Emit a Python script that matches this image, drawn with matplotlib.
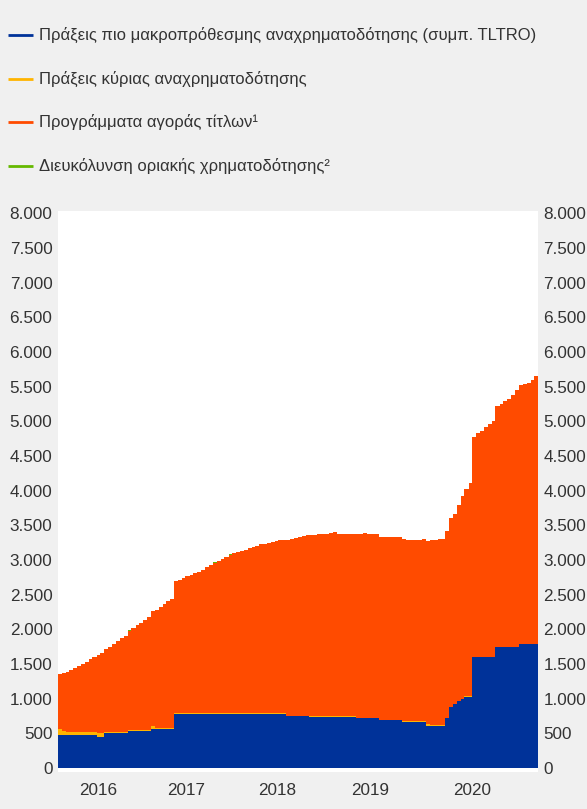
import numpy as np
import pandas as pd
import matplotlib
matplotlib.use('Agg')
import matplotlib.pyplot as plt
from matplotlib.lines import Line2D

plt.rcParams['font.family'] = ['Liberation Sans', 'DejaVu Sans']

# ---------------- data (EUR bn, semi-monthly, Jan 2016 - Feb 2021) ----------------
labels = [
    'Πράξεις πιο μακροπρόθεσμης αναχρηματοδότησης (συμπ. TLTRO)',
    'Πράξεις κύριας αναχρηματοδότησης',
    'Προγράμματα αγοράς τίτλων¹',
    'Διευκόλυνση οριακής χρηματοδότησης²',
]
colors = ['#003299', '#ffb400', '#ff4b00', '#65b800']

blue_2016 = [480, 480, 480, 480, 480, 480, 480, 480, 480, 480, 452, 452,
             500, 500, 500, 500, 500, 500, 528, 528, 528, 528, 528, 528]
blue_2017 = [557, 557, 557, 557, 557, 557, 780, 780, 780, 780, 780, 780,
             780, 780, 780, 780, 780, 780, 780, 780, 780, 780, 780, 780]
blue_2018 = [780, 780, 780, 780, 780, 780, 780, 780, 780, 780, 780, 750,
             750, 750, 750, 750, 750, 738, 738, 738, 738, 738, 738, 738]
blue_2019 = [738, 738, 738, 738, 738, 720, 720, 720, 720, 720, 720, 690,
             690, 690, 690, 690, 690, 667, 667, 667, 667, 667, 667, 610]
blue_2020 = [610, 610, 610, 610, 720, 880, 920, 965, 995, 1030, 1030, 1605,
             1605, 1605, 1605, 1605, 1605, 1750, 1750, 1750, 1750, 1750, 1750, 1790]
blue_2021 = [1790, 1790, 1790, 1790]

yellow_2016 = [80, 60, 45, 45, 45, 45, 45, 45, 45, 45, 58, 58,
               20, 20, 20, 20, 20, 20, 20, 20, 20, 20, 20, 20]
yellow_2017 = [50, 20, 20, 20, 20, 20, 20, 8, 8, 15, 8, 8,
               8, 8, 8, 8, 8, 12, 8, 8, 8, 8, 8, 8]
yellow_2018 = [8, 8, 8, 8, 8, 8, 8, 8, 8, 8, 8, 5,
               5, 5, 5, 5, 5, 15, 15, 15, 15, 15, 15, 15]
yellow_2019 = [15, 15, 15, 15, 15, 5, 5, 5, 5, 5, 5, 4,
               4, 4, 4, 4, 4, 4, 4, 4, 4, 4, 4, 20]
yellow_2020 = [3, 3, 3, 3, 2, 2, 2, 2, 2, 2, 2, 2,
               2, 2, 2, 2, 2, 2, 2, 2, 2, 2, 2, 2]
yellow_2021 = [2, 2, 2, 2]

orange_2016 = [800, 830, 860, 890, 920, 950, 980, 1010, 1045, 1080, 1115, 1150,
               1190, 1230, 1270, 1310, 1350, 1390, 1430, 1470, 1510, 1550, 1590, 1630]
orange_2017 = [1665, 1705, 1745, 1785, 1825, 1865, 1900, 1925, 1950, 1975, 2000, 2020,
               2045, 2075, 2105, 2140, 2170, 2200, 2230, 2260, 2285, 2310, 2330, 2345]
orange_2018 = [2360, 2380, 2400, 2420, 2440, 2450, 2460, 2470, 2480, 2495, 2505, 2530,
               2545, 2560, 2575, 2590, 2605, 2610, 2615, 2620, 2625, 2630, 2635, 2655]
orange_2019 = [2627, 2627, 2627, 2627, 2627, 2655, 2655, 2660, 2655, 2650, 2645, 2635,
               2635, 2635, 2635, 2635, 2635, 2630, 2620, 2620, 2620, 2625, 2630, 2650]
orange_2020 = [2677, 2682, 2687, 2687, 2700, 2720, 2740, 2825, 2925, 3000, 3080, 3173,
               3223, 3253, 3313, 3363, 3393, 3468, 3498, 3538, 3578, 3628, 3698, 3728]
orange_2021 = [3748, 3768, 3808, 3858]

green_2016 = [0, 0, 0, 0, 0, 0, 0, 0, 0, 0, 0, 0,
              0, 0, 0, 0, 0, 0, 12, 0, 0, 0, 0, 0]
green_2017 = [0, 0, 0, 0, 12, 0, 0, 0, 0, 0, 0, 0,
              0, 0, 0, 0, 12, 0, 0, 0, 12, 0, 0, 0]
green_2018 = [0, 0, 0, 0, 0, 0, 0, 0, 0, 0, 0, 0,
              0, 0, 0, 0, 0, 0, 0, 0, 0, 0, 0, 0]
green_2019 = [0, 0, 0, 0, 0, 0, 0, 0, 0, 0, 0, 0,
              0, 0, 0, 0, 0, 0, 0, 0, 0, 0, 0, 0]
green_2020 = [0, 0, 0, 0, 0, 0, 0, 0, 0, 0, 0, 0,
              0, 0, 0, 0, 0, 0, 0, 0, 0, 0, 0, 0]
green_2021 = [0, 0, 0, 0]

blue = blue_2016 + blue_2017 + blue_2018 + blue_2019 + blue_2020 + blue_2021
yellow = yellow_2016 + yellow_2017 + yellow_2018 + yellow_2019 + yellow_2020 + yellow_2021
orange = orange_2016 + orange_2017 + orange_2018 + orange_2019 + orange_2020 + orange_2021
green = green_2016 + green_2017 + green_2018 + green_2019 + green_2020 + green_2021

start_date = '2016-01-01'
end_date = '2021-03-01'
years = ['2016', '2017', '2018', '2019', '2020']
y_ticks = [0, 500, 1000, 1500, 2000, 2500, 3000, 3500, 4000,
           4500, 5000, 5500, 6000, 6500, 7000, 7500, 8000]

# ---------------- layout / style ----------------
year_label_pos = ['2016-06-05', '2017-05-20', '2018-05-10', '2019-05-12', '2020-06-15']
W, H = 587, 809
BG = '#f0f0f0'
TXT = '#333333'
FS = 12.3
LEG_FS = 12.0

dates = pd.date_range(start_date, periods=len(blue), freq='SMS')
x = np.append(dates.values, np.datetime64(end_date))


def ext(a):
    a = np.asarray(a, dtype=float)
    return np.append(a, a[-1])


fig = plt.figure(figsize=(W / 100, H / 100), dpi=100, facecolor=BG)
ax = fig.add_axes([58 / W, 1 - 772 / H, 480 / W, 561 / H])
ax.set_facecolor('white')

# cumulative stack tops, drawn from the top layer down so no seams appear
layers = [ext(v) for v in (blue, yellow, orange, green)]
tops = np.cumsum(layers, axis=0)
for top, c in reversed(list(zip(tops, colors))):
    ax.fill_between(x, 0, top, step='post', facecolor=c, edgecolor='none',
                    linewidth=0)

ax.set_xlim(x[0], x[-1])
ax.set_ylim(-58, 8036)
ax.set_yticks(y_ticks)
ax.set_yticklabels([f'{v:,}'.replace(',', '.') for v in y_ticks])
ax.tick_params(axis='y', length=0, labelsize=FS, labelcolor=TXT, pad=4,
               left=True, right=True, labelleft=True, labelright=True)
ax.set_xticks(pd.to_datetime(year_label_pos))
ax.set_xticklabels(years)
ax.tick_params(axis='x', length=0, labelsize=FS, labelcolor=TXT, pad=8)
for s in ax.spines.values():
    s.set_visible(False)

rows_y = [35, 78.5, 122, 165.5]
for lab, c, yy in zip(labels, colors, rows_y):
    fy = 1 - yy / H
    fig.add_artist(Line2D([8 / W, 33 / W], [fy, fy], color=c, lw=2.0,
                          transform=fig.transFigure, solid_capstyle='butt'))
    fig.text(39 / W, fy, lab, va='center', ha='left', fontsize=LEG_FS, color=TXT)

fig.savefig('out.png', dpi=100, facecolor=BG)
